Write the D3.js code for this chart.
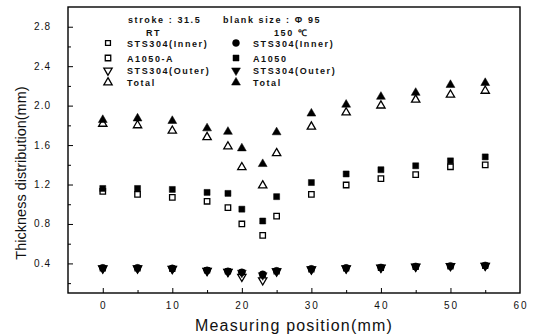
<!DOCTYPE html>
<html>
<head>
<meta charset="utf-8">
<script src="https://cdn.jsdelivr.net/npm/d3@7"></script>
<style>
  body { margin: 0; background: #fff; }
  text { font-family: "Liberation Sans", Arial, sans-serif; fill: #111; }
</style>
</head>
<body>
<div id="chart"></div>
<script>
// Measuring positions (mm)
const positions = [0, 5, 10, 15, 18, 20, 23, 25, 30, 35, 40, 45, 50, 55];

// RT (open symbols)
const stsInnerRT = [0.35, 0.35, 0.345, 0.33, 0.32, 0.305, 0.28, 0.32, 0.34, 0.35, 0.355, 0.365, 0.37, 0.375];
const a1050A = [1.13, 1.10, 1.07, 1.03, 0.965, 0.80, 0.685, 0.88, 1.10, 1.195, 1.26, 1.30, 1.38, 1.40];
const stsOuterRT = [0.35, 0.35, 0.345, 0.325, 0.315, 0.265, 0.23, 0.32, 0.34, 0.35, 0.357, 0.367, 0.374, 0.377];
const totalRT = [1.815, 1.80, 1.745, 1.68, 1.585, 1.375, 1.19, 1.517, 1.786, 1.93, 2.00, 2.06, 2.11, 2.15];

// 150 degC (filled symbols)
const stsInnerHot = [0.355, 0.355, 0.35, 0.33, 0.32, 0.31, 0.29, 0.325, 0.345, 0.355, 0.36, 0.37, 0.375, 0.38];
const a1050 = [1.16, 1.16, 1.15, 1.12, 1.11, 0.95, 0.83, 1.077, 1.22, 1.307, 1.35, 1.39, 1.44, 1.48];
const stsOuterHot = [0.35, 0.35, 0.345, 0.326, 0.316, 0.306, 0.28, 0.323, 0.34, 0.35, 0.357, 0.367, 0.374, 0.377];
const totalHot = [1.855, 1.87, 1.845, 1.77, 1.735, 1.567, 1.408, 1.73, 1.92, 2.01, 2.09, 2.13, 2.21, 2.23];

const xTicks = [0, 10, 20, 30, 40, 50, 60];
const yTicks = [0.4, 0.8, 1.2, 1.6, 2.0, 2.4, 2.8];

const width = 537, height = 335;
const margin = { left: 68, right: 17, top: 7, bottom: 42 };

const svg = d3.select('#chart').append('svg')
    .attr('width', width)
    .attr('height', height);

const x = d3.scaleLinear().domain([-5, 60]).range([margin.left, width - margin.right]);
const y = d3.scaleLinear().domain([0.1, 3.0]).range([height - margin.bottom, margin.top]);

// Series definitions: open = RT, filled = 150 degC
const series = [
    { values: stsInnerRT, type: d3.symbolSquare, size: 24, filled: false, rot: 0 },
    { values: a1050A, type: d3.symbolSquare, size: 30, filled: false, rot: 0 },
    { values: stsOuterRT, type: d3.symbolTriangle, size: 30, filled: false, rot: 180 },
    { values: totalRT, type: d3.symbolTriangle, size: 30, filled: false, rot: 0 },
    { values: stsInnerHot, type: d3.symbolCircle, size: 38, filled: true, rot: 0 },
    { values: a1050, type: d3.symbolSquare, size: 36, filled: true, rot: 0 },
    { values: stsOuterHot, type: d3.symbolTriangle, size: 34, filled: true, rot: 180 },
    { values: totalHot, type: d3.symbolTriangle, size: 34, filled: true, rot: 0 }
];

// Frame
svg.append('rect')
    .attr('x', x(-5))
    .attr('y', y(3.0))
    .attr('width', x(60) - x(-5))
    .attr('height', y(0.1) - y(3.0))
    .attr('fill', 'none')
    .attr('stroke', '#000')
    .attr('stroke-width', 1.4);

// X axis (ticks inward)
const xAxis = svg.append('g').attr('transform', `translate(0,${y(0.1)})`);
xAxis.call(d3.axisBottom(x).tickValues(d3.range(0, 60, 5)).tickSize(-5).tickFormat(''))
    .call(g => g.select('.domain').remove());
xAxis.selectAll('.tick').filter(d => d % 10 !== 0).select('line').attr('y2', -3);

svg.selectAll('.xlab').data(xTicks).enter().append('text')
    .attr('x', d => x(d) + 1)
    .attr('y', y(0.1) + 16)
    .attr('text-anchor', 'middle')
    .style('font-size', '10px')
    .style('letter-spacing', '2px')
    .text(d => d);

// Y axis (ticks inward)
const yAxis = svg.append('g').attr('transform', `translate(${x(-5)},0)`);
yAxis.call(d3.axisLeft(y).tickValues(d3.range(0.2, 3.0, 0.2)).tickSize(-5).tickFormat(''))
    .call(g => g.select('.domain').remove());
yAxis.selectAll('.tick').filter(d => Math.round(d * 10) % 4 !== 0).select('line').attr('x2', 3);

svg.selectAll('.ylab').data(yTicks).enter().append('text')
    .attr('x', x(-5) - 17)
    .attr('y', d => y(d) + 3.5)
    .attr('text-anchor', 'end')
    .style('font-size', '10px')
    .style('letter-spacing', '1px')
    .text(d => d.toFixed(1));

// Axis titles
svg.append('text')
    .attr('x', 294)
    .attr('y', 331)
    .attr('text-anchor', 'middle')
    .style('font-size', '16px')
    .style('letter-spacing', '1.2px')
    .text('Measuring position(mm)');

svg.append('text')
    .attr('transform', 'translate(26,173) rotate(-90)')
    .attr('text-anchor', 'middle')
    .style('font-size', '14.5px')
    .text('Thickness distribution(mm)');

// Data points
const plot = svg.append('g');
series.forEach(s => {
    plot.selectAll(null).data(positions.map((p, i) => [p, s.values[i]])).enter()
        .append('path')
        .attr('d', d3.symbol().type(s.type).size(s.size))
        .attr('transform', d => `translate(${x(d[0])},${y(d[1])}) rotate(${s.rot})`)
        .attr('fill', s.filled ? '#000' : '#fff')
        .attr('stroke', '#000')
        .attr('stroke-width', s.filled ? 0.5 : 1.3);
});

// Legend
function legendText(tx, ty, str) {
    svg.append('text')
        .attr('x', tx)
        .attr('y', ty)
        .style('font-size', '9px')
        .style('letter-spacing', '1.6px')
        .style('font-weight', 'bold')
        .text(str);
}
legendText(128, 23, 'stroke : 31.5');
legendText(223, 23, 'blank size : Φ 95');
legendText(146, 36, 'RT');
legendText(274, 36, '150 ℃');

const legendLabels = ['STS304(Inner)', 'A1050-A', 'STS304(Outer)', 'Total'];
const legendLabelsHot = ['STS304(Inner)', 'A1050', 'STS304(Outer)', 'Total'];
const legendRows = [43, 58, 70.5, 82.5];

legendRows.forEach((ry, i) => {
    const sOpen = series[i];
    const sFill = series[i + 4];
    svg.append('path')
        .attr('d', d3.symbol().type(sOpen.type).size(sOpen.size))
        .attr('transform', `translate(108,${ry}) rotate(${sOpen.rot})`)
        .attr('fill', '#fff').attr('stroke', '#000').attr('stroke-width', 1.3);
    legendText(127, ry + 3.5, legendLabels[i]);
    svg.append('path')
        .attr('d', d3.symbol().type(sFill.type).size(sFill.size))
        .attr('transform', `translate(236,${ry}) rotate(${sFill.rot})`)
        .attr('fill', '#000').attr('stroke', '#000').attr('stroke-width', 0.5);
    legendText(253, ry + 3.5, legendLabelsHot[i]);
});
</script>
</body>
</html>
